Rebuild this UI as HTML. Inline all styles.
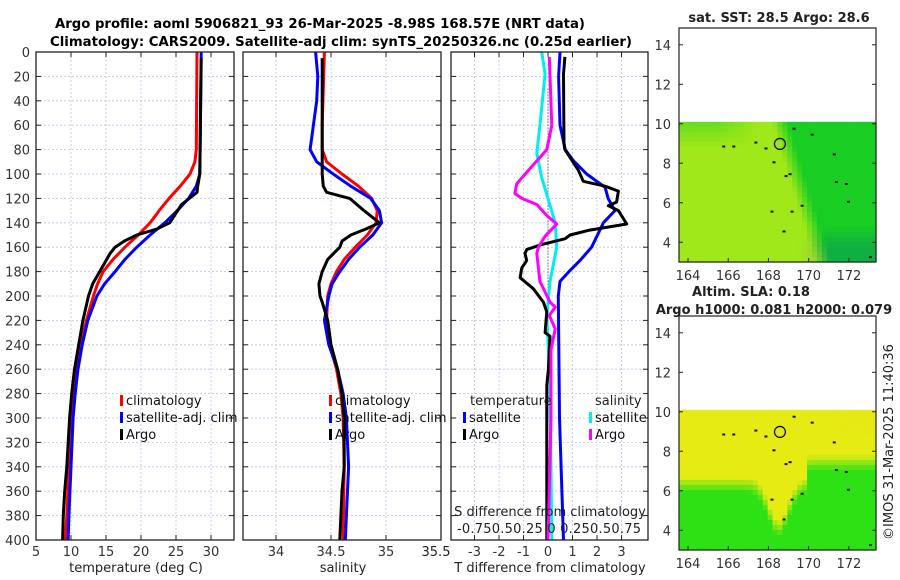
<!DOCTYPE html>
<html><head><meta charset="utf-8"><title>Argo profile</title>
<style>
body{margin:0;background:#fff;}
svg{display:block;font-family:"DejaVu Sans","Liberation Sans",sans-serif;}
</style></head>
<body>
<svg id="fig" width="900" height="580" viewBox="0 0 900 580" xmlns="http://www.w3.org/2000/svg">
<rect width="900" height="580" fill="#fff"/>
<text x="320" y="28" text-anchor="middle" font-size="13" font-weight="bold" textLength="530" lengthAdjust="spacingAndGlyphs">Argo profile: aoml 5906821_93 26-Mar-2025 -8.98S 168.57E (NRT data)</text>
<text x="341" y="46" text-anchor="middle" font-size="13" font-weight="bold" textLength="582" lengthAdjust="spacingAndGlyphs">Climatology: CARS2009. Satellite-adj clim: synTS_20250326.nc (0.25d earlier)</text>
<g id="plots"></g>
</svg>
<script>
// ---------------- data ----------------
const depthTicks = [0,20,40,60,80,100,120,140,160,180,200,220,240,260,280,300,320,340,360,380,400];
const tempTicks = [5,10,15,20,25,30];
const salTicks = [34,34.5,35,35.5];
const tdiffTicks = [-3,-2,-1,0,1,2,3];
const sdiffTickLabels = ["-0.75","0.5","0.25","0","0.25","0.5","0.75"];
const sdiffTicks = [-0.75,-0.5,-0.25,0,0.25,0.5,0.75];

const tClimDepth = [0,80,90,100,110,120,130,140,150,160,170,180,190,200,220,240,260,280,300,340,380,400];
const tClimVal   = [28.0,27.9,27.7,27.0,25.6,24.0,22.6,21.3,19.6,17.7,16.0,14.6,13.8,13.2,12.2,11.4,10.8,10.4,10.1,9.7,9.4,9.2];
const tSatDepth = [0,100,110,120,130,140,150,160,170,180,190,200,220,240,260,280,300,340,380,400];
const tSatVal   = [28.6,28.4,27.9,26.8,25.2,23.4,21.3,19.4,17.7,16.3,14.8,13.7,12.4,11.6,11.0,10.6,10.3,10.0,9.7,9.6];
const tArgoDepth = [5,100,110,115,125,140,145,150,155,160,165,170,180,190,200,220,240,260,280,300,320,340,360,380,400];
const tArgoVal   = [28.6,28.4,28.1,28.0,25.8,24.1,22.3,19.4,17.6,16.3,15.6,15.1,14.1,13.1,12.5,11.7,11.1,10.5,10.1,9.8,9.6,9.4,9.1,8.9,8.8];

const sClimDepth = [0,60,80,90,100,110,120,130,140,150,160,170,180,190,200,220,240,260,280,300,340,400];
const sClimVal   = [34.44,34.42,34.42,34.46,34.6,34.75,34.87,34.92,34.91,34.83,34.72,34.62,34.55,34.5,34.47,34.46,34.49,34.55,34.59,34.61,34.62,34.61];
const sSatDepth = [0,20,40,60,80,90,100,110,120,130,140,150,160,170,180,190,200,220,240,260,280,300,340,400];
const sSatVal   = [34.36,34.38,34.37,34.34,34.31,34.37,34.52,34.68,34.86,34.94,34.96,34.88,34.76,34.66,34.58,34.51,34.48,34.44,34.48,34.56,34.61,34.64,34.66,34.63];
const sArgoDepth = [5,100,110,115,120,130,140,145,150,155,160,170,180,190,200,205,220,240,260,280,300,340,360,380,400];
const sArgoVal   = [34.42,34.42,34.43,34.46,34.67,34.8,34.94,34.82,34.68,34.6,34.58,34.47,34.42,34.39,34.40,34.42,34.47,34.5,34.56,34.6,34.62,34.62,34.6,34.59,34.58];

const dTSatDepth = [0,20,60,80,89,100,111,120,130,140,160,171,179,188,200,300,400];
const dTSatVal   = [0.49,0.43,0.49,0.7,1.03,1.58,2.33,2.45,2.73,2.26,1.78,1.3,0.9,0.49,0.42,0.47,0.63];
const dTArgoDepth = [4,18,75,80,97,106,110,114,123,126,130,141,146,150,153,158,162,165,171,177,185,194,205,213,230,233,261,273,310,358,400];
const dTArgoVal   = [0.69,0.63,0.65,0.69,1.24,1.44,2.33,2.87,2.8,2.46,2.87,3.21,1.7,0.9,0.7,-0.3,-0.87,-0.94,-0.87,-1.07,-1.14,-0.6,-0.19,-0.05,-0.12,0.08,0.01,-0.05,-0.05,-0.05,-0.05];
const dSSatDepth = [0,18,60,83,103,117,140,160,188,216,273,400];
const dSSatVal   = [-0.065,-0.03,-0.083,-0.115,-0.065,-0.013,0.073,0.088,0.02,-0.013,0.02,0.038];
const dSArgoDepth = [4,60,80,94,108,116,120,125,134,141,151,160,165,188,205,209,216,227,244,301,400];
const dSArgoVal   = [0.013,0.038,-0.013,-0.168,-0.32,-0.338,-0.268,-0.115,-0.013,0.088,-0.03,-0.098,-0.115,-0.083,0.02,0.073,0.013,0.073,0.03,0.03,0.0];

const lonTicks = [164,166,168,170,172];
const latTicks = [4,6,8,10,12,14];
const argoLon = [168.57];
const argoLat = [8.98];

// ---------------- helpers ----------------
const NS = "http://www.w3.org/2000/svg";
const root = document.getElementById('plots');
function mk(tag, attrs, parent){
  const e = document.createElementNS(NS, tag);
  for (const k in attrs) e.setAttribute(k, attrs[k]);
  (parent||root).appendChild(e);
  return e;
}
const Y0 = 52, Y1 = 540;
function yScale(d){ return Y0 + d/400*(Y1-Y0); }
function makeX(x0, x1, v0, v1){ return v => x0 + (v-v0)/(v1-v0)*(x1-x0); }

function axesFrame(name, x0, x1, xScale, xticks, yLabels){
  const g = mk('g', {});
  
  
  depthTicks.forEach(d => {
    const y = yScale(d);
    const l = mk('line', {x1:x0, x2:x1, y1:y, y2:y, stroke:'#b8c4e8', 'stroke-width':0.8, 'stroke-dasharray':'2,2'}, g);
    
    
    mk('line', {x1:x0, x2:x0+5, y1:y, y2:y, stroke:'#222', 'stroke-width':1}, g);
    mk('line', {x1:x1-5, x2:x1, y1:y, y2:y, stroke:'#222', 'stroke-width':1}, g);
    if (yLabels){
      const t = mk('text', {x:x0-6, y:y+5, 'text-anchor':'end', 'font-size':13, fill:'#333'}, g);
      
      
      t.textContent = d;
    }
  });
  xticks.forEach(v => {
    const x = xScale(v);
    const l = mk('line', {x1:x, x2:x, y1:Y0, y2:Y1, stroke:'#b8c4e8', 'stroke-width':0.8, 'stroke-dasharray':'2,2'}, g);
    
    
    mk('line', {x1:x, x2:x, y1:Y1-5, y2:Y1, stroke:'#222', 'stroke-width':1}, g);
    mk('line', {x1:x, x2:x, y1:Y0, y2:Y0+5, stroke:'#222', 'stroke-width':1}, g);
  });
  return g;
}
function xLabels(g, xScale, ticks, labels, y){
  ticks.forEach((v,i) => {
    const t = mk('text', {x:xScale(v), y:y, 'text-anchor':'middle', 'font-size':13, fill:'#333'}, g);
    
    
    t.textContent = labels ? labels[i] : v;
  });
}
function box(g, x0, x1){
  const r = mk('rect', {x:x0, y:Y0, width:x1-x0, height:Y1-Y0, fill:'none', stroke:'#222', 'stroke-width':1.3}, g);
  
  
}
function line(g, name, depths, vals, xScale, color, w){
  const pts = depths.map((d,i) => xScale(vals[i]).toFixed(1)+','+yScale(d).toFixed(1)).join(' ');
  const p = mk('polyline', {points:pts, fill:'none', stroke:color, 'stroke-width':w||3, 'stroke-linejoin':'round'}, g);
  
  
}
function legendEntry(g, name, x, y, color, label){
  const e = mk('g', {}, g);
  
  
  mk('rect', {x:x, y:y-10, width:3, height:11, fill:color}, e);
  const t = mk('text', {x:x+6, y:y, 'font-size':13, fill:'#111'}, e);
  t.textContent = label;
}
function label(g, name, x, y, txt, anchor){
  const t = mk('text', {x:x, y:y, 'text-anchor':anchor||'middle', 'font-size':13, fill:'#222'}, g);
  
  
  t.textContent = txt;
  return t;
}

// ---------------- panel 1: temperature ----------------
const xT = makeX(36, 234, 5, 33.286);
const g1 = axesFrame('temperature-panel', 36, 234, xT, tempTicks, true);
line(g1, 'temp-climatology-line', tClimDepth, tClimVal, xT, '#ff0000');
line(g1, 'temp-satellite-line', tSatDepth, tSatVal, xT, '#0000ff');
line(g1, 'temp-argo-line', tArgoDepth, tArgoVal, xT, '#000000');
box(g1, 36, 234);
xLabels(g1, xT, [5,10,15,20,25,30], null, 556);
label(g1, 'temperature-x-axis-title', 136, 572, 'temperature (deg C)');
legendEntry(g1, 'legend-climatology', 120, 405, '#ff0000', 'climatology');
legendEntry(g1, 'legend-satellite-adj-clim', 120, 422, '#0000ff', 'satellite-adj. clim');
legendEntry(g1, 'legend-argo', 120, 439, '#000000', 'Argo');

// ---------------- panel 2: salinity ----------------
const xS = makeX(243, 441, 33.7, 35.5);
const g2 = axesFrame('salinity-panel', 243, 441, xS, salTicks, false);
line(g2, 'sal-climatology-line', sClimDepth, sClimVal, xS, '#ff0000');
line(g2, 'sal-satellite-line', sSatDepth, sSatVal, xS, '#0000ff');
line(g2, 'sal-argo-line', sArgoDepth, sArgoVal, xS, '#000000');
box(g2, 243, 441);
xLabels(g2, xS, [34,34.5,35], null, 556);
label(g2, 'x-tick-label-35.5', 436, 556, '35.5');
label(g2, 'salinity-x-axis-title', 343, 572, 'salinity');
legendEntry(g2, 'legend-climatology', 329, 405, '#ff0000', 'climatology');
legendEntry(g2, 'legend-satellite-adj-clim', 329, 422, '#0000ff', 'satellite-adj. clim');
legendEntry(g2, 'legend-argo', 329, 439, '#000000', 'Argo');

// ---------------- panel 3: differences ----------------
const xD = makeX(451, 648, -3.96, 4.08);
const xSD = v => xD(v*4);
const g3 = axesFrame('difference-panel', 451, 648, xD, tdiffTicks, false);
const z = mk('line', {x1:xD(0), x2:xD(0), y1:yScale(30), y2:yScale(250), stroke:'#333', 'stroke-width':1, 'stroke-dasharray':'1,2'}, g3);


line(g3, 'tdiff-satellite-line', dTSatDepth, dTSatVal, xD, '#0000ff');
line(g3, 'sdiff-satellite-line', dSSatDepth, dSSatVal, xSD, '#00eeee');
line(g3, 'tdiff-argo-line', dTArgoDepth, dTArgoVal, xD, '#000000');
line(g3, 'sdiff-argo-line', dSArgoDepth, dSArgoVal, xSD, '#ff00ff');
box(g3, 451, 648);
xLabels(g3, xD, tdiffTicks, null, 556);
label(g3, 'tdiff-x-axis-title', 550, 572, 'T difference from climatology');
label(g3, 'sdiff-axis-title', 550, 516, 'S difference from climatology');
const sl = label(g3, 'sdiff-tick-labels', 549, 533, '-0.750.50.25 0 0.250.50.75');
sl.setAttribute('textLength', '184');
label(g3, 'legend-temperature-heading', 470, 405, 'temperature', 'start');
label(g3, 'legend-salinity-heading', 595, 405, 'salinity', 'start');
legendEntry(g3, 'legend-tdiff-satellite', 463, 422, '#0000ff', 'satellite');
legendEntry(g3, 'legend-tdiff-argo', 463, 439, '#000000', 'Argo');
legendEntry(g3, 'legend-sdiff-satellite', 589, 422, '#00eeee', 'satellite');
legendEntry(g3, 'legend-sdiff-argo', 589, 439, '#ff00ff', 'Argo');

// ---------------- maps ----------------
function clamp(v){ return Math.max(0, Math.min(1, v)); }
function drawMap(name, top, bottom, palette){
  const x0 = 679, x1 = 876;
  const g = mk('g', {});
  
  
  const lon = makeX(x0, x1, 163.55, 173.35);
  const lat = v => top + (14.85 - v)/(14.85-3.0)*(bottom-top);
  const yTop = lat(10.1);
  const nx = 40, ny = 28;
  const cw = (x1-x0)/nx, ch = (bottom-yTop)/ny;
  for (let i=0;i<nx;i++) for (let j=0;j<ny;j++){
    const lo = 163.55 + (i+0.5)/nx*9.8;
    const la = 10.1 - (j+0.5)/ny*7.1;
    mk('rect', {x:(x0+i*cw).toFixed(2), y:(yTop+j*ch).toFixed(2), width:(cw+0.6).toFixed(2), height:(ch+0.6).toFixed(2), fill:palette(lo,la)}, g);
  }
  mk('rect', {x:x0, y:top, width:x1-x0, height:bottom-top, fill:'none', stroke:'#222', 'stroke-width':1.2}, g);
  const isl = [[165.7,8.9],[166.2,8.9],[167.3,9.1],[167.8,8.8],[168.2,8.1],[168.8,7.4],[169.0,7.5],[169.6,5.9],[168.7,4.6],[168.1,5.6],[169.2,9.8],[170.1,9.5],[171.2,8.5],[171.3,7.1],[171.8,7.0],[171.9,6.1],[173.0,3.3],[169.1,5.6]];
  isl.forEach(p => mk('rect', {x:lon(p[0]), y:lat(p[1]), width:3, height:2, fill:'#111'}, g));
  argoLon.forEach((lo,i) => {
    const c = mk('circle', {cx:lon(lo), cy:lat(argoLat[i]), r:5.5, fill:'none', stroke:'#111', 'stroke-width':1.3}, g);
    
    
  });
  latTicks.forEach(v => {
    const y = lat(v);
    mk('line', {x1:x0, x2:x0+4, y1:y, y2:y, stroke:'#222'}, g);
    mk('line', {x1:x1-4, x2:x1, y1:y, y2:y, stroke:'#222'}, g);
    const t = mk('text', {x:x0-8, y:y+5, 'text-anchor':'end', 'font-size':13, fill:'#333'}, g);
    
    
    t.textContent = v;
  });
  lonTicks.forEach(v => {
    const x = lon(v);
    mk('line', {x1:x, x2:x, y1:bottom-4, y2:bottom, stroke:'#222'}, g);
    const t = mk('text', {x:x, y:bottom+18, 'text-anchor':'middle', 'font-size':13, fill:'#333'}, g);
    
    
    t.textContent = v;
  });
  return g;
}
function rgb(r,gc,b){ return 'rgb('+Math.round(r)+','+Math.round(gc)+','+Math.round(b)+')'; }
drawMap('sst-map', 28, 262, (lo, la) => {
  // boundary between yellow-green west and dark green east runs from ~168.8E at top to ~170.5E at lat 4
  const bnd = 168.6 + (10 - la) * 0.3;
  const east = clamp((lo - bnd) / 0.8 + 0.5);
  const nw = clamp((la - 8.8) / 1.2) * clamp((167.5 - lo)/2) * 0.4;
  const se = clamp((lo - 169.5)/1.5) * clamp((4.8 - la)/1);
  const w = clamp(east + nw);
  return rgb(160 - 135*w - 10*se, 232 - 26*w - 30*se, 25 + 10*w + 30*se);
});
drawMap('sla-map', 316, 550, (lo, la) => {
  // yellow north, green south with a yellow tongue at ~168.6E
  let edge = 6.3;
  if (lo > 169.8) edge = 7.4;
  const tongue = Math.exp(-Math.pow((lo - 168.5)/0.7, 2));
  edge = edge - 2.2 * tongue;
  const gr = clamp((edge - la) / 0.8 + 0.5);
  const ne = clamp((la - 8.8)/1) * clamp((lo - 171)/2) * 0.25;
  return rgb(230 - 185*gr + 10*ne, 235 - 10*gr - 15*ne, 20);
});
label(root, 'sst-map-title', 779, 22, 'sat. SST: 28.5 Argo: 28.6').setAttribute('font-weight','bold');
label(root, 'sla-map-title-line-1', 751, 296, 'Altim. SLA: 0.18').setAttribute('font-weight','bold');
label(root, 'sla-map-title-line-2', 774, 314, 'Argo h1000: 0.081 h2000: 0.079').setAttribute('font-weight','bold');
const cp = label(root, 'imos-timestamp', 0, 0, '©IMOS 31-Mar-2025 11:40:36');
cp.setAttribute('transform', 'translate(893,442) rotate(-90)');
</script>
</body></html>
